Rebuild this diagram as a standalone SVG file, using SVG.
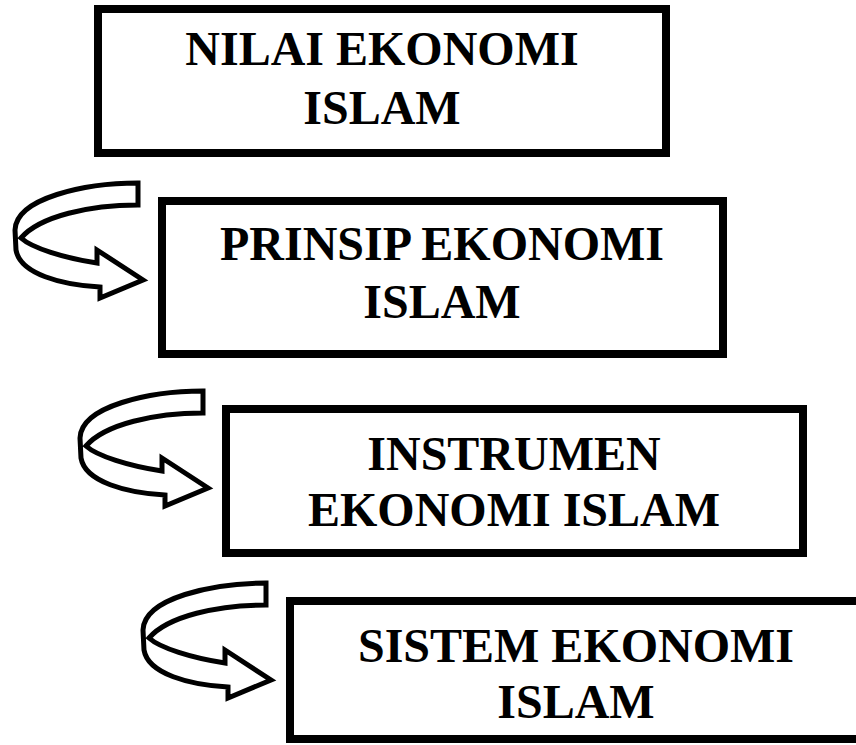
<svg xmlns="http://www.w3.org/2000/svg" xmlns:xlink="http://www.w3.org/1999/xlink" width="856" height="745" viewBox="0 0 856 745">
  <style>
    .box { fill: #ffffff; stroke: #000000; stroke-width: 8; }
    .label { font-family: "Liberation Serif", "Times New Roman", serif; font-weight: bold; font-size: 48px; fill: #000000; text-anchor: middle; }
    .curl { fill: #ffffff; stroke: #000000; stroke-width: 5; stroke-linejoin: miter; }
  </style>
  <defs>
    <!-- ribbon-style curved arrow: tail at top right, loops left, head points right -->
    <path id="curl-arrow" class="curl" d="M138,183 C85,183 16,198 15,230 L16,250 C20,274 62,285 100,287 L100,298 L143,280 L97,250 L97,263 C64,258 32,248 21,238 C40,216 90,205 138,205 Z"/>
  </defs>
  <rect width="856" height="745" fill="#ffffff"/>

  <g id="connectors">
    <use xlink:href="#curl-arrow"/>
    <use xlink:href="#curl-arrow" transform="translate(65,208)"/>
    <use xlink:href="#curl-arrow" transform="translate(128,400)"/>
  </g>

  <g id="nilai">
    <rect class="box" x="98" y="9" width="568" height="144"/>
    <text class="label" x="382" y="65">NILAI EKONOMI</text>
    <text class="label" x="382" y="124">ISLAM</text>
  </g>

  <g id="prinsip">
    <rect class="box" x="162" y="201" width="561" height="153"/>
    <text class="label" x="442" y="260">PRINSIP EKONOMI</text>
    <text class="label" x="442" y="318">ISLAM</text>
  </g>

  <g id="instrumen">
    <rect class="box" x="226" y="409" width="577" height="144"/>
    <text class="label" x="514" y="470">INSTRUMEN</text>
    <text class="label" x="514" y="526">EKONOMI ISLAM</text>
  </g>

  <g id="sistem">
    <rect class="box" x="290" y="601" width="572" height="138"/>
    <text class="label" x="576" y="662">SISTEM EKONOMI</text>
    <text class="label" x="576" y="718">ISLAM</text>
  </g>
</svg>
